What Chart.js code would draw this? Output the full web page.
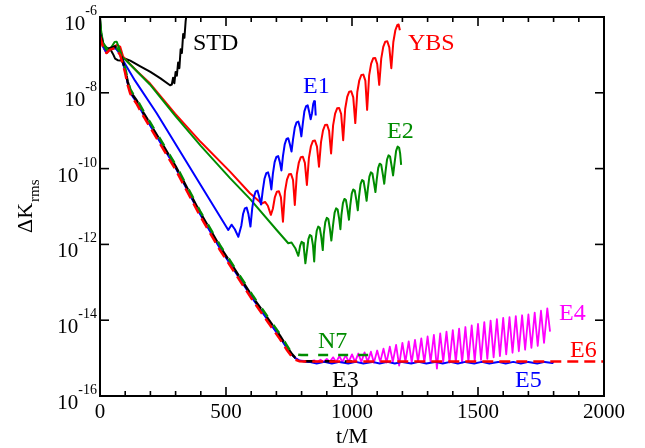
<!DOCTYPE html>
<html><head><meta charset="utf-8">
<script src="https://cdn.jsdelivr.net/npm/chart.js@4"></script>
<style>html,body{margin:0;padding:0;background:#fff}canvas{display:block}</style>
</head><body>
<canvas id="c" width="645" height="448"></canvas>
<script>
// ---- data: [t/M, log10(ΔK_rms)] ----
const xMajorTicks = [0, 500, 1000, 1500, 2000];
const xTickLabels = ['0', '500', '1000', '1500', '2000'];
const xMinorStep = 100;
const yTickExps = [-6, -8, -10, -12, -14, -16];

const stdLog10 = [[0,-6.0],[5,-6.45],[12,-6.7],[20,-6.78],[30,-6.82],[40,-6.84],[52,-6.98],[60,-7.1],[70,-7.14],[80,-7.15],[100,-7.1],[120,-7.15],[160,-7.3],[200,-7.45],[240,-7.62],[278,-7.8],[285,-7.78],[290,-7.6],[295,-7.75],[300,-7.45],[305,-7.55],[310,-7.2],[315,-7.35],[320,-6.85],[325,-6.95],[330,-6.45],[335,-6.55],[340,-6.1],[346,-5.8]];

const ybsLog10 = [[0,-6.38],[8,-6.6],[18,-6.85],[26,-6.95],[40,-6.83],[53,-6.78],[66,-6.74],[80,-6.78],[92,-7.05],[110,-7.18],[150,-7.45],[198,-7.75],[298,-8.55],[400,-9.3],[516,-10.08],[595,-10.65],
[642,-10.92],[655,-10.88],[666,-10.98],[678,-11.22],
[686,-11.06],[694,-10.75],[702,-10.61],[710,-10.6],[718,-10.76],[726,-11.4],
[734,-10.6],[742,-10.29],[750,-10.15],[758,-10.14],[766,-10.3],[773,-10.96],
[781,-10.15],[789,-9.84],[797,-9.7],[805,-9.69],[813,-9.85],[821,-10.43],
[829,-9.72],[837,-9.41],[845,-9.27],[853,-9.26],[861,-9.42],[869,-9.95],
[877,-9.3],[885,-8.99],[893,-8.85],[901,-8.84],[909,-9.0],[917,-9.6],
[925,-8.86],[933,-8.55],[941,-8.41],[949,-8.4],[957,-8.56],[965,-9.25],
[973,-8.42],[981,-8.11],[989,-7.97],[997,-7.96],[1005,-8.12],[1013,-8.8],
[1021,-7.98],[1029,-7.67],[1037,-7.53],[1045,-7.52],[1053,-7.68],[1060,-8.45],
[1068,-7.54],[1076,-7.23],[1084,-7.09],[1092,-7.08],[1100,-7.24],[1108,-7.79],
[1116,-7.1],[1124,-6.79],[1132,-6.65],[1140,-6.64],[1148,-6.8],[1156,-7.35],
[1164,-6.66],[1172,-6.35],[1180,-6.21],[1185,-6.2],[1190,-6.35]];

const e1Log10 = [[0,-6.48],[6,-6.62],[13,-6.8],[26,-6.94],[40,-6.85],[60,-6.82],[75,-6.9],[86,-7.09],[139,-7.68],[225,-8.54],[400,-10.44],
[509,-11.62],[522,-11.48],[535,-11.6],[549,-11.8],
[561,-11.5],[568,-11.19],[575,-11.05],[582,-11.03],[589,-11.2],[597,-11.53],
[604,-11.05],[611,-10.74],[618,-10.6],[625,-10.58],[632,-10.75],[639,-10.95],
[646,-10.57],[653,-10.26],[660,-10.12],[667,-10.1],[674,-10.27],[680,-10.55],
[686,-10.14],[693,-9.83],[700,-9.69],[707,-9.67],[714,-9.84],[720,-10.05],
[726,-9.67],[733,-9.36],[740,-9.22],[747,-9.2],[754,-9.37],[760,-9.55],
[766,-9.23],[773,-8.92],[780,-8.78],[787,-8.76],[794,-8.93],[799,-9.15],
[805,-8.8],[811,-8.49],[818,-8.35],[824,-8.33],[830,-8.5],[836,-8.7],
[841,-8.55],[846,-8.3],[850,-8.22],[853,-8.25],[856,-8.6]];

const e2Log10 = [[0,-6.05],[5,-6.4],[13,-6.69],[33,-6.87],[45,-6.8],[58,-6.66],[66,-6.65],[75,-6.8],[86,-7.05],[100,-7.12],[198,-7.78],[298,-8.6],[400,-9.4],[516,-10.25],[595,-10.8],[701,-11.62],[747,-11.97],[760,-11.95],
[775,-12.1],[787,-12.3],
[790,-12.2],[794,-12.04],[800,-11.93],[806,-11.96],[809,-12.1],[815,-12.5],
[821,-12.18],[827,-11.86],[833,-11.75],[839,-11.78],[845,-12.02],[850,-12.45],
[854,-11.96],[860,-11.64],[866,-11.53],[872,-11.56],[878,-11.8],[884,-12.15],
[888,-11.73],[894,-11.41],[900,-11.3],[906,-11.33],[912,-11.57],[918,-11.9],
[925,-11.48],[931,-11.16],[937,-11.05],[943,-11.08],[949,-11.32],[954,-11.6],
[958,-11.23],[964,-10.91],[970,-10.8],[976,-10.83],[982,-11.07],[988,-11.35],
[993,-10.98],[999,-10.66],[1005,-10.55],[1011,-10.58],[1017,-10.82],[1023,-11.1],
[1028,-10.73],[1034,-10.41],[1040,-10.3],[1046,-10.33],[1052,-10.57],[1058,-10.85],
[1063,-10.53],[1069,-10.21],[1075,-10.1],[1081,-10.13],[1087,-10.37],[1093,-10.62],
[1098,-10.3],[1104,-9.98],[1110,-9.87],[1116,-9.9],[1122,-10.14],[1128,-10.4],
[1133,-10.08],[1139,-9.76],[1145,-9.65],[1151,-9.68],[1157,-9.92],[1163,-10.18],
[1169,-9.85],[1175,-9.53],[1181,-9.42],[1187,-9.45],[1191,-9.6],[1195,-9.9]];

// steep common decay shared by E4 and E5
const bundleLog10 = [[0,-6.45],[6,-6.6],[13,-6.78],[26,-6.92],[40,-6.84],[60,-6.8],[80,-6.98],[99,-7.4],[110,-7.75],[120,-7.98],[130,-8.1],[146,-8.25],[175,-8.6],[198,-8.85],[300,-9.98],[397,-11.2],[476,-12.1],[608,-13.45],[714,-14.45],[740,-14.72],[760,-14.9],[775,-15.0],[790,-15.06],[810,-15.09]];

const e6Log10 = [[0,-6.5],[6,-6.65],[13,-6.82],[26,-6.95],[40,-6.86],[60,-6.82],[80,-7.0],[99,-7.45],[110,-7.8],[120,-8.02],[130,-8.14],[146,-8.3],[175,-8.65],[198,-8.9],[300,-10.03],[397,-11.25],[476,-12.15],[608,-13.5],[714,-14.5],[740,-14.77],[760,-14.95],[775,-15.04],[790,-15.08],[810,-15.09],[2000,-15.09]];

const e3Log10 = [[0,-6.45],[6,-6.58],[13,-6.75],[26,-6.9],[40,-6.82],[60,-6.78],[80,-6.95],[99,-7.36],[110,-7.71],[120,-7.94],[130,-8.06],[146,-8.21],[175,-8.56],[198,-8.81],[300,-9.94],[397,-11.16],[476,-12.06],[608,-13.41],[714,-14.41],[740,-14.69],[760,-14.88],[775,-14.99],[790,-15.05],[810,-15.08],[1000,-15.09]];

const n7Log10 = [[0,-6.42],[6,-6.55],[13,-6.72],[26,-6.86],[40,-6.8],[60,-6.76],[80,-6.93],[99,-7.32],[110,-7.66],[120,-7.9],[130,-8.02],[146,-8.17],[175,-8.52],[198,-8.77],[300,-9.9],[397,-11.12],[476,-12.02],[608,-13.37],[714,-14.37],[740,-14.65],[754,-14.8],[775,-14.9],[800,-14.92],[1100,-14.92]];

const e5TailLog10 = [[830,-15.1],[860,-15.14],[890,-15.1],[920,-15.14],[950,-15.1],[985,-15.14],[1015,-15.1],[1045,-15.14],[1080,-15.1],[1110,-15.14],[1140,-15.1],[1170,-15.14],[1200,-15.1],[1235,-15.14],[1265,-15.1],[1295,-15.14],[1330,-15.1],[1360,-15.14],[1390,-15.1],[1420,-15.14],[1450,-15.1],[1485,-15.14],[1515,-15.1],[1545,-15.14],[1580,-15.1],[1610,-15.14],[1640,-15.1],[1670,-15.14],[1700,-15.1],[1735,-15.14],[1765,-15.1],[1795,-15.13],[1800,-15.1]];

const e4TailLog10 = [[830,-15.09],[850,-15.06],[862,-15.1],[875,-15.04],[887,-15.1],[900,-15.02],[912,-15.1],[925,-14.98],[937,-15.1],[950,-14.95],[962,-15.1],[975,-14.93],[987,-15.1],[1000,-14.9],[1012,-15.1],[1025,-14.88],[1037,-15.1],[1050,-14.85],[1062,-15.1],[1075,-14.83],[1087,-15.12],[1100,-14.8],[1112,-15.1],[1125,-14.75],[1137,-15.12],[1150,-14.7],[1162,-15.1],[1175,-14.65],[1187,-15.2],[1200,-14.6],[1212,-15.1],[1225,-14.56],[1237,-15.12],[1250,-14.52],[1262,-15.1],[1275,-14.48],[1287,-15.12],[1300,-14.43],[1312,-15.1],[1325,-14.39],[1337,-15.28],[1350,-14.35],[1362,-15.1],[1375,-14.3],[1387,-15.12],[1400,-14.26],[1412,-15.1],[1425,-14.22],[1437,-15.12],[1450,-14.18],[1462,-15.1],[1475,-14.14],[1487,-15.08],[1500,-14.1],[1512,-15.05],[1525,-14.05],[1537,-15.02],[1550,-14.01],[1562,-14.98],[1575,-13.97],[1587,-14.95],[1600,-13.94],[1612,-14.9],[1625,-13.92],[1637,-14.86],[1650,-13.89],[1662,-14.82],[1675,-13.87],[1687,-14.78],[1700,-13.85],[1712,-14.73],[1725,-13.8],[1737,-14.68],[1750,-13.75],[1762,-14.6],[1775,-13.69],[1786,-14.3]];

const curveLabels = [
  {text:'STD', x:193, y:50, color:'#000000'},
  {text:'YBS', x:408, y:50, color:'#ff0000'},
  {text:'E1', x:303, y:93, color:'#0000ff'},
  {text:'E2', x:387, y:138, color:'#008c00'},
  {text:'E4', x:559, y:320, color:'#ff00ff'},
  {text:'E6', x:570, y:357, color:'#ff0000'},
  {text:'N7', x:318, y:348, color:'#008c00'},
  {text:'E3', x:332, y:387, color:'#000000'},
  {text:'E5', x:515, y:387, color:'#0000ff'}
];

// ---- build datasets ----
const toPts = arr => arr.map(([t, l]) => ({x: t, y: Math.pow(10, l)}));
const SERIF = '"Liberation Serif", "Times New Roman", serif';
const GREEN = '#008c00';

function ds(label, pts, color, width, dash, order, dashOffset) {
  return {label, data: toPts(pts), borderColor: color, borderWidth: width,
    borderDash: dash || [], borderDashOffset: dashOffset || 0,
    pointRadius: 0, fill: false, tension: 0, order, borderJoinStyle: 'round'};
}

const datasets = [
  ds('STD', stdLog10, '#000000', 2, null, 20),
  ds('YBS', ybsLog10, '#ff0000', 2, null, 19),
  ds('E2', e2Log10, GREEN, 2, null, 18),
  ds('E1', e1Log10, '#0000ff', 2, null, 17),
  ds('E4', bundleLog10.slice(0, -1).concat(e4TailLog10), '#ff00ff', 1.8, null, 6),
  ds('E5', bundleLog10.concat(e5TailLog10), '#0000ff', 2, null, 5),
  ds('E3', e3Log10, '#000000', 2.5, [10, 10], 4, 0),
  ds('N7', n7Log10, GREEN, 2.5, [10, 10], 3, 10),
  ds('E6', e6Log10, '#ff0000', 2.5, [11, 6], 2, 0)
];

const decor = {
  id: 'decor',
  afterDraw(chart) {
    const {ctx, chartArea: a} = chart;
    const xs = chart.scales.x, ys = chart.scales.y;
    ctx.save();
    ctx.strokeStyle = '#000';
    ctx.lineWidth = 2;
    ctx.strokeRect(a.left, a.top, a.right - a.left, a.bottom - a.top);
    ctx.lineWidth = 1.6;
    const seg = (x1, y1, x2, y2) => { ctx.beginPath(); ctx.moveTo(x1, y1); ctx.lineTo(x2, y2); ctx.stroke(); };
    for (let v = xs.min; v <= xs.max; v += xMinorStep) {
      const px = xs.getPixelForValue(v);
      const len = xMajorTicks.includes(v) ? 9 : 5;
      seg(px, a.bottom, px, a.bottom - len);
      seg(px, a.top, px, a.top + len);
    }
    yTickExps.forEach(e => {
      const py = ys.getPixelForValue(Math.pow(10, e));
      seg(a.left, py, a.left + 9, py);
      seg(a.right, py, a.right - 9, py);
    });
    ctx.fillStyle = '#000';
    ctx.font = '21px ' + SERIF;
    ctx.textAlign = 'center';
    ctx.textBaseline = 'alphabetic';
    xMajorTicks.forEach((v, i) => ctx.fillText(xTickLabels[i], xs.getPixelForValue(v), a.bottom + 22));
    yTickExps.forEach(e => {
      const py = ys.getPixelForValue(Math.pow(10, e));
      const sup = String(e);
      ctx.font = '14px ' + SERIF;
      const sw = ctx.measureText(sup).width;
      const right = a.left - 3;
      ctx.textAlign = 'left';
      ctx.fillText(sup, right - sw, py - 2);
      ctx.font = '21px ' + SERIF;
      ctx.textAlign = 'right';
      ctx.fillText('10', right - sw, py + 13);
    });
    ctx.font = '22px ' + SERIF;
    ctx.textAlign = 'center';
    ctx.fillText('t/M', (a.left + a.right) / 2, a.bottom + 47);
    ctx.save();
    ctx.translate(32, 233);
    ctx.rotate(-Math.PI / 2);
    ctx.textAlign = 'left';
    ctx.font = '22px ' + SERIF;
    ctx.fillText('ΔK', 0, 0);
    const w = ctx.measureText('ΔK').width;
    ctx.font = '15px ' + SERIF;
    ctx.fillText('rms', w + 1, 7);
    ctx.restore();
    ctx.font = '24px ' + SERIF;
    ctx.textAlign = 'left';
    curveLabels.forEach(l => { ctx.fillStyle = l.color; ctx.fillText(l.text, l.x, l.y); });
    ctx.restore();
  }
};

new Chart(document.getElementById('c'), {
  type: 'line',
  data: {datasets},
  options: {
    responsive: false,
    animation: false,
    devicePixelRatio: 1,
    layout: {padding: {left: 100, right: 41, top: 17, bottom: 52}},
    plugins: {legend: {display: false}, tooltip: {enabled: false}},
    scales: {
      x: {type: 'linear', min: 0, max: 2000, display: false},
      y: {type: 'logarithmic', min: 1e-16, max: 1e-6, display: false}
    }
  },
  plugins: [decor]
});
</script></body></html>
